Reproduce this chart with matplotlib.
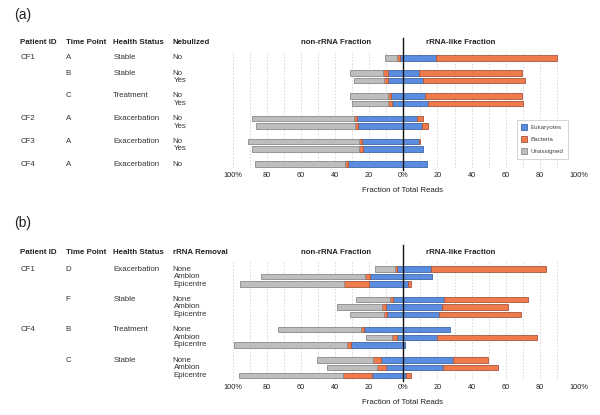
import numpy as np
import matplotlib
matplotlib.use("Agg")
import matplotlib.pyplot as plt
from matplotlib import transforms
from matplotlib.patches import Patch

plt.rcParams['font.family'] = ['Liberation Sans', 'DejaVu Sans']

# ---------------- data ----------------
a_patient = ['CF1', '', '', '', '', 'CF2', '', 'CF3', '', 'CF4']
a_time = ['A', 'B', '', 'C', '', 'A', '', 'A', '', 'A']
a_health = ['Stable', 'Stable', '', 'Treatment', '', 'Exacerbation', '', 'Exacerbation', '', 'Exacerbation']
a_neb = ['No', 'No', 'Yes', 'No', 'Yes', 'No', 'Yes', 'No', 'Yes', 'No']
a_non_euk = [1.9, 8.8, 8.8, 7.2, 6.8, 27.3, 26.4, 24.4, 23.8, 32.2]
a_non_bac = [2.0, 2.9, 2.5, 1.9, 2.3, 1.4, 1.9, 1.4, 2.2, 2.0]
a_non_una = [6.8, 19.5, 17.6, 22.1, 20.8, 60.1, 58.0, 65.0, 62.5, 52.5]
a_r_euk = [19.0, 9.4, 11.4, 12.7, 14.6, 8.2, 10.8, 9.4, 11.7, 13.7]
a_r_bac = [71.2, 60.0, 59.9, 56.7, 55.7, 3.2, 3.8, 0.4, 0.0, 0.0]

b_patient = ['CF1', '', '', '', '', '', 'CF4', '', '', '', '', '']
b_time = ['D', '', '', 'F', '', '', 'B', '', '', 'C', '', '']
b_health = ['Exacerbation', '', '', 'Stable', '', '', 'Treatment', '', '', 'Stable', '', '']
b_removal = ['None', 'Ambion', 'Epicentre'] * 4
b_non_euk = [3.5, 19.5, 20.1, 6.2, 10.3, 9.7, 23.0, 3.9, 30.6, 13.2, 10.1, 18.5]
b_non_bac = [1.4, 2.9, 14.5, 1.6, 2.4, 1.6, 2.0, 2.9, 2.2, 4.4, 5.5, 17.0]
b_non_una = [11.7, 61.0, 61.1, 19.9, 26.3, 19.9, 48.2, 15.2, 66.4, 33.1, 28.9, 60.6]
b_r_euk = [16.2, 17.0, 2.6, 23.8, 22.5, 21.1, 27.4, 19.9, 1.0, 28.9, 23.4, 1.4]
b_r_bac = [67.4, 0.0, 2.1, 49.1, 38.7, 47.9, 0.0, 58.2, 0.0, 20.5, 32.3, 3.1]

tick_vals = [-100, -80, -60, -40, -20, 0, 20, 40, 60, 80, 100]
tick_labels = ['100%', '80', '60', '40', '20', '0%', '20', '40', '60', '80', '100%']
legend_labels = ['Eukaryotes', 'Bacteria', 'Unassigned']

C_EUK = '#5B8DDF'
C_BAC = '#EE7B4C'
C_UNA = '#BEBEBE'
E_EUK = '#3F66A8'
E_BAC = '#A9553A'
E_UNA = '#8A8A8A'
TXT = '#222222'
FS = 5.7

W, H = 600, 415
fig = plt.figure(figsize=(W / 100, H / 100), dpi=100)


def fx(x):
    return x / W


def fy(y):
    return 1 - y / H


def positions(time_labels):
    pos = []
    p = 0
    for i, t in enumerate(time_labels):
        if i > 0:
            p += 2 if t else 1
        pos.append(p)
    return np.array(pos, dtype=float)


def panel(top_px, bottom_px, letter, letter_y, header_y, col4, patient, time, health, cond,
          non_euk, non_bac, non_una, r_euk, r_bac, zero_top, legend=False):
    ax = fig.add_axes([fx(232.6), fy(bottom_px), (574.0 - 232.6) / W, (bottom_px - top_px) / H])
    pos = positions(time)
    ne, nb, nu = np.array(non_euk), np.array(non_bac), np.array(non_una)
    re, rb = np.array(r_euk), np.array(r_bac)
    h = 0.72

    def lw(v):
        return np.where(v > 0, 0.6, 0.0)

    ax.barh(pos, -ne, left=0, height=h, color=C_EUK, edgecolor=E_EUK, linewidth=lw(ne), zorder=3)
    ax.barh(pos, -nb, left=-ne, height=h, color=C_BAC, edgecolor=E_BAC, linewidth=lw(nb), zorder=3)
    ax.barh(pos, -nu, left=-(ne + nb), height=h, color=C_UNA, edgecolor=E_UNA, linewidth=lw(nu), zorder=3)
    ax.barh(pos, re, left=0, height=h, color=C_EUK, edgecolor=E_EUK, linewidth=lw(re), zorder=3)
    ax.barh(pos, rb, left=re, height=h, color=C_BAC, edgecolor=E_BAC, linewidth=lw(rb), zorder=3)

    ax.set_xlim(-100, 100)
    ax.set_ylim(14.55, -0.95)
    ax.set_yticks([])
    ax.set_xticks(tick_vals)
    ax.set_xticklabels(tick_labels, fontsize=5.3, color=TXT)
    ax.set_xticks(np.arange(-90, 100, 20), minor=True)
    ax.tick_params(axis='x', which='both', length=0, pad=3.0)
    lbls = ax.get_xticklabels()
    lbls[-1].set_transform(lbls[-1].get_transform() +
                           transforms.ScaledTranslation(5 / 100, 0, fig.dpi_scale_trans))
    ax.grid(axis='x', which='both', color='#D4D4D4', linestyle=(0, (2.0, 2.0)), linewidth=0.6, zorder=0)
    for s in ax.spines.values():
        s.set_visible(False)
    ax.patch.set_alpha(0)
    trans = transforms.blended_transform_factory(ax.transData, ax.transAxes)
    ax.plot([0, 0], [-0.015, zero_top], color='#111111', lw=1.0, transform=trans,
            clip_on=False, zorder=5)

    # titles
    fig.text(fx(336), fy(header_y), 'non-rRNA Fraction', fontsize=FS, fontweight='bold',
             ha='center', va='center', color=TXT)
    fig.text(fx(460.5), fy(header_y), 'rRNA-like Fraction', fontsize=FS, fontweight='bold',
             ha='center', va='center', color=TXT)
    fig.text(fx(402), fy(bottom_px + 22.5), 'Fraction of Total Reads', fontsize=FS,
             ha='center', va='center', color=TXT)

    # panel letter + headers
    fig.text(fx(14), fy(letter_y), letter, fontsize=10, ha='left', va='center', color=TXT)
    cols = [20.5, 65.5, 113.3, 172.7]
    heads = ['Patient ID', 'Time Point', 'Health Status', col4]
    for x, t in zip(cols, heads):
        fig.text(fx(x), fy(header_y), t, fontsize=FS, fontweight='bold', ha='left',
                 va='center', color=TXT)
    ttr = transforms.blended_transform_factory(fig.transFigure, ax.transData)
    for i, p in enumerate(pos):
        for j, (x, t) in enumerate(zip(cols, [patient[i], time[i], health[i], cond[i]])):
            if t:
                xx = x + (0.8 if (j == 3 and i > 0 and not time[i]) else 0)
                fig.text(fx(xx), p, t, fontsize=FS, ha='left', va='center', color='#333333',
                         transform=ttr)

    if legend:
        handles = [Patch(facecolor=C_EUK, edgecolor=E_EUK, lw=0.6),
                   Patch(facecolor=C_BAC, edgecolor=E_BAC, lw=0.6),
                   Patch(facecolor=C_UNA, edgecolor=E_UNA, lw=0.6)]
        leg = fig.legend(handles, legend_labels, loc='upper left',
                         bbox_to_anchor=(fx(516.5), fy(120)), fontsize=4.5,
                         frameon=True, fancybox=False, handlelength=0.9, handleheight=0.9,
                         labelspacing=1.0, borderpad=0.7, handletextpad=0.6, borderaxespad=0)
        leg.get_frame().set_edgecolor('#C8C8C8')
        leg.get_frame().set_linewidth(0.7)
        for t in leg.get_texts():
            t.set_color('#444444')
    return ax


panel(50.8, 168.2, '(a)', 15, 42.7, 'Nebulized', a_patient, a_time, a_health, a_neb,
      a_non_euk, a_non_bac, a_non_una, a_r_euk, a_r_bac, 1.11, legend=True)
panel(261.8, 379.5, '(b)', 223.3, 252.8, 'rRNA Removal', b_patient, b_time, b_health, b_removal,
      b_non_euk, b_non_bac, b_non_una, b_r_euk, b_r_bac, 1.14)

fig.savefig('out.png', dpi=100)
